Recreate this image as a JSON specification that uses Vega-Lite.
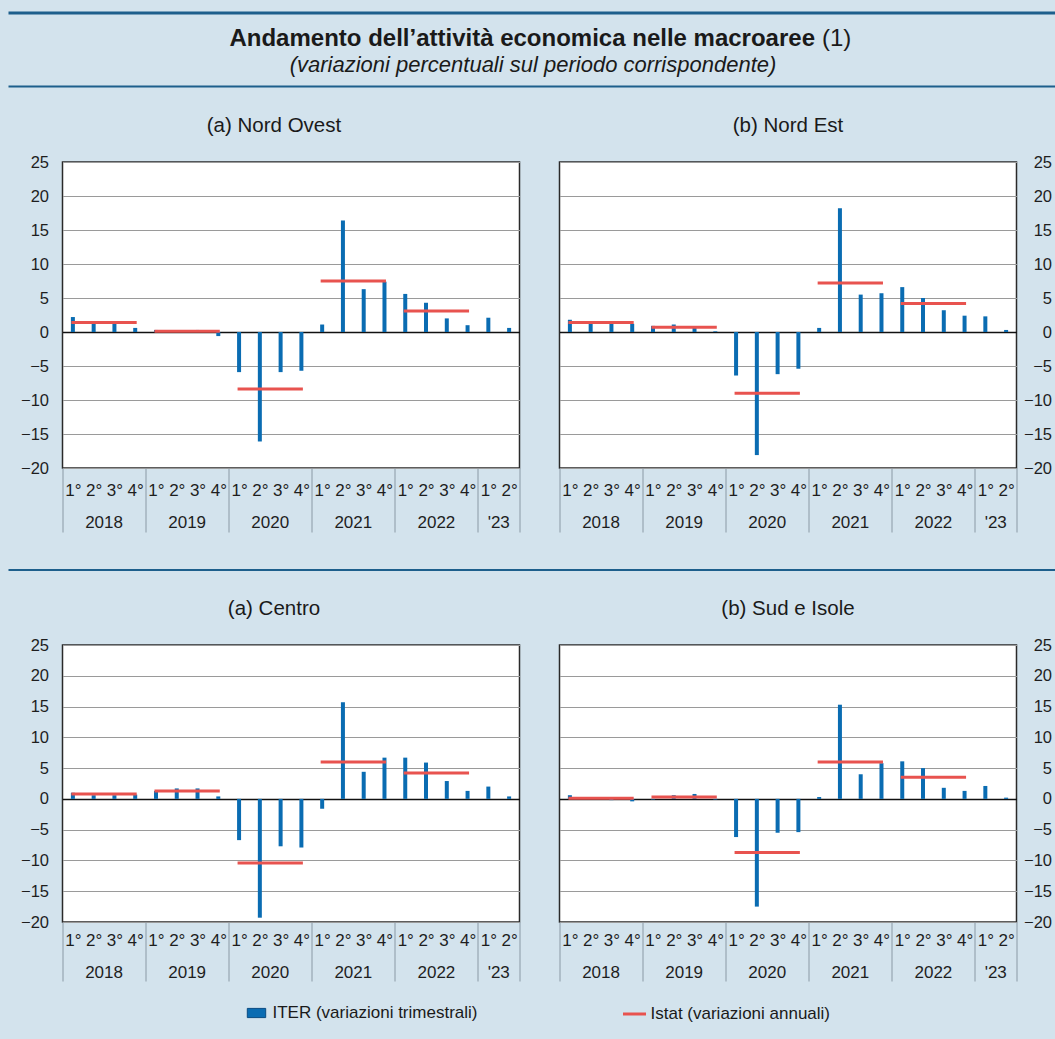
{
  "$schema": "https://vega.github.io/schema/vega-lite/v6.json",
  "background": "#d3e3ed",
  "padding": {"left": 6.5, "top": 11, "right": 0, "bottom": 20},
  "datasets": {
    "iter": [
      {"area": "Nord Ovest", "t": "2018-1", "v": 2.2}, {"area": "Nord Ovest", "t": "2018-2", "v": 1.6}, {"area": "Nord Ovest", "t": "2018-3", "v": 1.2}, {"area": "Nord Ovest", "t": "2018-4", "v": 0.6},
      {"area": "Nord Ovest", "t": "2019-1", "v": 0.3}, {"area": "Nord Ovest", "t": "2019-2", "v": 0.2}, {"area": "Nord Ovest", "t": "2019-3", "v": 0.3}, {"area": "Nord Ovest", "t": "2019-4", "v": -0.6},
      {"area": "Nord Ovest", "t": "2020-1", "v": -5.9}, {"area": "Nord Ovest", "t": "2020-2", "v": -16.1}, {"area": "Nord Ovest", "t": "2020-3", "v": -5.9}, {"area": "Nord Ovest", "t": "2020-4", "v": -5.7},
      {"area": "Nord Ovest", "t": "2021-1", "v": 1.1}, {"area": "Nord Ovest", "t": "2021-2", "v": 16.4}, {"area": "Nord Ovest", "t": "2021-3", "v": 6.3}, {"area": "Nord Ovest", "t": "2021-4", "v": 7.4},
      {"area": "Nord Ovest", "t": "2022-1", "v": 5.6}, {"area": "Nord Ovest", "t": "2022-2", "v": 4.3}, {"area": "Nord Ovest", "t": "2022-3", "v": 2.0}, {"area": "Nord Ovest", "t": "2022-4", "v": 1.0},
      {"area": "Nord Ovest", "t": "2023-1", "v": 2.1}, {"area": "Nord Ovest", "t": "2023-2", "v": 0.6},
      {"area": "Nord Est", "t": "2018-1", "v": 1.8}, {"area": "Nord Est", "t": "2018-2", "v": 1.3}, {"area": "Nord Est", "t": "2018-3", "v": 1.3}, {"area": "Nord Est", "t": "2018-4", "v": 1.2},
      {"area": "Nord Est", "t": "2019-1", "v": 0.9}, {"area": "Nord Est", "t": "2019-2", "v": 1.1}, {"area": "Nord Est", "t": "2019-3", "v": 0.6}, {"area": "Nord Est", "t": "2019-4", "v": 0.1},
      {"area": "Nord Est", "t": "2020-1", "v": -6.4}, {"area": "Nord Est", "t": "2020-2", "v": -18.1}, {"area": "Nord Est", "t": "2020-3", "v": -6.2}, {"area": "Nord Est", "t": "2020-4", "v": -5.4},
      {"area": "Nord Est", "t": "2021-1", "v": 0.6}, {"area": "Nord Est", "t": "2021-2", "v": 18.2}, {"area": "Nord Est", "t": "2021-3", "v": 5.5}, {"area": "Nord Est", "t": "2021-4", "v": 5.7},
      {"area": "Nord Est", "t": "2022-1", "v": 6.6}, {"area": "Nord Est", "t": "2022-2", "v": 5.0}, {"area": "Nord Est", "t": "2022-3", "v": 3.2}, {"area": "Nord Est", "t": "2022-4", "v": 2.4},
      {"area": "Nord Est", "t": "2023-1", "v": 2.3}, {"area": "Nord Est", "t": "2023-2", "v": 0.3},
      {"area": "Centro", "t": "2018-1", "v": 1.0}, {"area": "Centro", "t": "2018-2", "v": 0.6}, {"area": "Centro", "t": "2018-3", "v": 0.6}, {"area": "Centro", "t": "2018-4", "v": 0.7},
      {"area": "Centro", "t": "2019-1", "v": 1.3}, {"area": "Centro", "t": "2019-2", "v": 1.7}, {"area": "Centro", "t": "2019-3", "v": 1.7}, {"area": "Centro", "t": "2019-4", "v": 0.4},
      {"area": "Centro", "t": "2020-1", "v": -6.7}, {"area": "Centro", "t": "2020-2", "v": -19.3}, {"area": "Centro", "t": "2020-3", "v": -7.7}, {"area": "Centro", "t": "2020-4", "v": -7.9},
      {"area": "Centro", "t": "2021-1", "v": -1.6}, {"area": "Centro", "t": "2021-2", "v": 15.7}, {"area": "Centro", "t": "2021-3", "v": 4.4}, {"area": "Centro", "t": "2021-4", "v": 6.7},
      {"area": "Centro", "t": "2022-1", "v": 6.7}, {"area": "Centro", "t": "2022-2", "v": 5.9}, {"area": "Centro", "t": "2022-3", "v": 2.9}, {"area": "Centro", "t": "2022-4", "v": 1.3},
      {"area": "Centro", "t": "2023-1", "v": 2.0}, {"area": "Centro", "t": "2023-2", "v": 0.4},
      {"area": "Sud e Isole", "t": "2018-1", "v": 0.6}, {"area": "Sud e Isole", "t": "2018-2", "v": 0.3}, {"area": "Sud e Isole", "t": "2018-3", "v": -0.2}, {"area": "Sud e Isole", "t": "2018-4", "v": -0.4},
      {"area": "Sud e Isole", "t": "2019-1", "v": -0.1}, {"area": "Sud e Isole", "t": "2019-2", "v": 0.6}, {"area": "Sud e Isole", "t": "2019-3", "v": 0.8}, {"area": "Sud e Isole", "t": "2019-4", "v": -0.1},
      {"area": "Sud e Isole", "t": "2020-1", "v": -6.2}, {"area": "Sud e Isole", "t": "2020-2", "v": -17.5}, {"area": "Sud e Isole", "t": "2020-3", "v": -5.5}, {"area": "Sud e Isole", "t": "2020-4", "v": -5.4},
      {"area": "Sud e Isole", "t": "2021-1", "v": 0.3}, {"area": "Sud e Isole", "t": "2021-2", "v": 15.3}, {"area": "Sud e Isole", "t": "2021-3", "v": 4.0}, {"area": "Sud e Isole", "t": "2021-4", "v": 5.8},
      {"area": "Sud e Isole", "t": "2022-1", "v": 6.1}, {"area": "Sud e Isole", "t": "2022-2", "v": 5.0}, {"area": "Sud e Isole", "t": "2022-3", "v": 1.8}, {"area": "Sud e Isole", "t": "2022-4", "v": 1.3},
      {"area": "Sud e Isole", "t": "2023-1", "v": 2.1}, {"area": "Sud e Isole", "t": "2023-2", "v": 0.2}
    ],
    "istat": [
      {"area": "Nord Ovest", "anno": "2018", "da": "2018-1", "a": "2018-4", "v": 1.4},
      {"area": "Nord Ovest", "anno": "2019", "da": "2019-1", "a": "2019-4", "v": 0.1},
      {"area": "Nord Ovest", "anno": "2020", "da": "2020-1", "a": "2020-4", "v": -8.4},
      {"area": "Nord Ovest", "anno": "2021", "da": "2021-1", "a": "2021-4", "v": 7.5},
      {"area": "Nord Ovest", "anno": "2022", "da": "2022-1", "a": "2022-4", "v": 3.1},
      {"area": "Nord Est", "anno": "2018", "da": "2018-1", "a": "2018-4", "v": 1.4},
      {"area": "Nord Est", "anno": "2019", "da": "2019-1", "a": "2019-4", "v": 0.7},
      {"area": "Nord Est", "anno": "2020", "da": "2020-1", "a": "2020-4", "v": -9.0},
      {"area": "Nord Est", "anno": "2021", "da": "2021-1", "a": "2021-4", "v": 7.2},
      {"area": "Nord Est", "anno": "2022", "da": "2022-1", "a": "2022-4", "v": 4.2},
      {"area": "Centro", "anno": "2018", "da": "2018-1", "a": "2018-4", "v": 0.8},
      {"area": "Centro", "anno": "2019", "da": "2019-1", "a": "2019-4", "v": 1.3},
      {"area": "Centro", "anno": "2020", "da": "2020-1", "a": "2020-4", "v": -10.4},
      {"area": "Centro", "anno": "2021", "da": "2021-1", "a": "2021-4", "v": 6.0},
      {"area": "Centro", "anno": "2022", "da": "2022-1", "a": "2022-4", "v": 4.2},
      {"area": "Sud e Isole", "anno": "2018", "da": "2018-1", "a": "2018-4", "v": 0.1},
      {"area": "Sud e Isole", "anno": "2019", "da": "2019-1", "a": "2019-4", "v": 0.3},
      {"area": "Sud e Isole", "anno": "2020", "da": "2020-1", "a": "2020-4", "v": -8.7},
      {"area": "Sud e Isole", "anno": "2021", "da": "2021-1", "a": "2021-4", "v": 6.0},
      {"area": "Sud e Isole", "anno": "2022", "da": "2022-1", "a": "2022-4", "v": 3.5}
    ],
    "testata": [
      {"titolo": "Andamento dell’attività economica nelle macroaree", "nota": "(1)", "sottotitolo": "(variazioni percentuali sul periodo corrispondente)"}
    ]
  },
  "vconcat": [
    {
      "width": 993,
      "height": 73.5,
      "view": {"stroke": null, "fill": null},
      "data": {"name": "testata"},
      "layer": [
        {"mark": {"type": "rule", "color": "#1d5f8c", "strokeWidth": 3, "xOffset": -54, "x2Offset": 10},
         "encoding": {"x": {"datum": 0, "type": "quantitative", "scale": {"domain": [0, 1]}, "axis": null}, "x2": {"datum": 1}, "y": {"datum": 1, "type": "quantitative", "scale": {"domain": [0, 1]}, "axis": null}}},
        {"mark": {"type": "rule", "color": "#1d5f8c", "strokeWidth": 2, "xOffset": -54, "x2Offset": 10},
         "encoding": {"x": {"datum": 0, "type": "quantitative", "axis": null}, "x2": {"datum": 1}, "y": {"datum": 0, "type": "quantitative", "axis": null}}},
        {"mark": {"type": "text", "fontSize": 24, "fontWeight": "bold", "align": "right", "baseline": "middle", "dy": -11, "dx": 256, "color": "#1a1a1a"}, "encoding": {"text": {"field": "titolo"}}},
        {"mark": {"type": "text", "fontSize": 24, "fontWeight": "normal", "align": "left", "baseline": "middle", "dy": -11, "dx": 263, "color": "#1a1a1a"}, "encoding": {"text": {"field": "nota"}}},
        {"mark": {"type": "text", "fontSize": 22, "fontStyle": "italic", "baseline": "middle", "dy": 15, "dx": -26, "color": "#1a1a1a"}, "encoding": {"text": {"field": "sottotitolo"}}}
      ]
    },
    {
      "hconcat": [
        {
          "width": 457, "height": 306,
          "title": {"text": "(a) Nord Ovest", "dx": -17},
          "layer": [
            {
              "data": {"name": "iter"},
              "transform": [{"filter": "datum.area === 'Nord Ovest'"}],
              "mark": {"type": "bar", "size": 4},
              "encoding": {
                "x": {"field": "t", "type": "ordinal", "scale": {"paddingInner": 0, "paddingOuter": 0},
                  "axis": {"orient": "bottom", "title": null, "domain": false, "grid": false, "labelAngle": 0, "labelOverlap": false, "tickBand": "extent", "tickSize": 64, "tickWidth": 1, "tickColor": "#8a99a5",
                    "tickOpacity": {"condition": {"test": "datum.index < 0 || indexof(['2018-4','2019-4','2020-4','2021-4','2022-4','2023-2'], datum.value) >= 0", "value": 1}, "value": 0},
                    "labelPadding": -49.3, "labelExpr": "datum.index < 0 ? '' : substring(datum.value, 5) + '°'"}},
                "y": {"field": "v", "type": "quantitative", "scale": {"domain": [-20, 25], "nice": false},
                  "axis": {"title": null, "values": [-20, -15, -10, -5, 0, 5, 10, 15, 20, 25], "tickCount": 20, "labelOverlap": false, "domain": false, "ticks": false, "grid": true, "labelPadding": 14, "minExtent": 54, "labelFontSize": 16.5,
                    "gridColor": {"condition": {"test": "datum.value === 0", "value": "#111111"}, "value": "#9a9a9a"},
                    "gridWidth": {"condition": {"test": "datum.value === 0", "value": 1.5}, "value": 1}}},
                "fill": {"datum": "ITER (variazioni trimestrali)", "scale": {"range": ["#0a6cb2"]}, "legend": {"title": null, "symbolType": "M-0.8,-0.4H0.8V0.4H-0.8Z", "symbolSize": 529, "symbolStrokeColor": "#0b4c82", "symbolStrokeWidth": 1, "labelOffset": 4, "labelLimit": 400}}
              }
            },
            {
              "data": {"name": "istat"},
              "transform": [{"filter": "datum.area === 'Nord Ovest'"}],
              "mark": {"type": "rule", "strokeWidth": 3, "strokeCap": "square"},
              "encoding": {
                "x": {"field": "da", "type": "ordinal",
                  "axis": {"orient": "bottom", "title": null, "domain": false, "grid": false, "ticks": false, "labelAngle": 0, "labelOverlap": false,
                    "values": ["2018-2", "2019-2", "2020-2", "2021-2", "2022-2", "2023-1"], "labelOffset": 10.39, "labelPadding": 46.2,
                    "labelExpr": "datum.value === '2023-1' ? \"'23\" : substring(datum.value, 0, 4)"}},
                "x2": {"field": "a"},
                "y": {"field": "v", "type": "quantitative"},
                "stroke": {"datum": "Istat (variazioni annuali)", "scale": {"range": ["#e8534f"]}, "legend": {"title": null, "symbolType": "stroke", "symbolSize": 529, "symbolStrokeWidth": 3, "labelOffset": 3, "labelLimit": 400}}
              }
            }
          ],
          "resolve": {"axis": {"x": "independent"}}
        },
        {
          "width": 457, "height": 306,
          "title": {"text": "(b) Nord Est"},
          "layer": [
            {
              "data": {"name": "iter"},
              "transform": [{"filter": "datum.area === 'Nord Est'"}],
              "mark": {"type": "bar", "size": 4},
              "encoding": {
                "x": {"field": "t", "type": "ordinal", "scale": {"paddingInner": 0, "paddingOuter": 0},
                  "axis": {"orient": "bottom", "title": null, "domain": false, "grid": false, "labelAngle": 0, "labelOverlap": false, "tickBand": "extent", "tickSize": 64, "tickWidth": 1, "tickColor": "#8a99a5",
                    "tickOpacity": {"condition": {"test": "datum.index < 0 || indexof(['2018-4','2019-4','2020-4','2021-4','2022-4','2023-2'], datum.value) >= 0", "value": 1}, "value": 0},
                    "labelPadding": -49.3, "labelExpr": "datum.index < 0 ? '' : substring(datum.value, 5) + '°'"}},
                "y": {"field": "v", "type": "quantitative", "scale": {"domain": [-20, 25], "nice": false},
                  "axis": {"orient": "right", "title": null, "values": [-20, -15, -10, -5, 0, 5, 10, 15, 20, 25], "tickCount": 20, "labelOverlap": false, "domain": false, "ticks": false, "grid": true, "labelPadding": 35, "labelAlign": "right", "labelFontSize": 16.5,
                    "gridColor": {"condition": {"test": "datum.value === 0", "value": "#111111"}, "value": "#9a9a9a"},
                    "gridWidth": {"condition": {"test": "datum.value === 0", "value": 1.5}, "value": 1}}},
                "fill": {"datum": "ITER (variazioni trimestrali)", "scale": {"range": ["#0a6cb2"]}, "legend": {"title": null, "symbolType": "M-0.8,-0.4H0.8V0.4H-0.8Z", "symbolSize": 529, "symbolStrokeColor": "#0b4c82", "symbolStrokeWidth": 1, "labelOffset": 4, "labelLimit": 400}}
              }
            },
            {
              "data": {"name": "istat"},
              "transform": [{"filter": "datum.area === 'Nord Est'"}],
              "mark": {"type": "rule", "strokeWidth": 3, "strokeCap": "square"},
              "encoding": {
                "x": {"field": "da", "type": "ordinal",
                  "axis": {"orient": "bottom", "title": null, "domain": false, "grid": false, "ticks": false, "labelAngle": 0, "labelOverlap": false,
                    "values": ["2018-2", "2019-2", "2020-2", "2021-2", "2022-2", "2023-1"], "labelOffset": 10.39, "labelPadding": 46.2,
                    "labelExpr": "datum.value === '2023-1' ? \"'23\" : substring(datum.value, 0, 4)"}},
                "x2": {"field": "a"},
                "y": {"field": "v", "type": "quantitative"},
                "stroke": {"datum": "Istat (variazioni annuali)", "scale": {"range": ["#e8534f"]}, "legend": {"title": null, "symbolType": "stroke", "symbolSize": 529, "symbolStrokeWidth": 3, "labelOffset": 3, "labelLimit": 400}}
              }
            }
          ],
          "resolve": {"axis": {"x": "independent"}}
        }
      ],
      "spacing": 36
    },
    {
      "width": 993,
      "height": 10,
      "view": {"stroke": null, "fill": null},
      "data": {"name": "testata"},
      "mark": {"type": "rule", "color": "#1d5f8c", "strokeWidth": 2, "xOffset": -54, "x2Offset": 10},
      "encoding": {"x": {"datum": 0, "type": "quantitative", "scale": {"domain": [0, 1]}, "axis": null}, "x2": {"datum": 1}, "y": {"datum": 0, "type": "quantitative", "scale": {"domain": [0, 1]}, "axis": null}}
    },
    {
      "hconcat": [
        {
          "width": 457, "height": 277,
          "title": {"text": "(a) Centro", "dx": -17},
          "layer": [
            {
              "data": {"name": "iter"},
              "transform": [{"filter": "datum.area === 'Centro'"}],
              "mark": {"type": "bar", "size": 4},
              "encoding": {
                "x": {"field": "t", "type": "ordinal", "scale": {"paddingInner": 0, "paddingOuter": 0},
                  "axis": {"orient": "bottom", "title": null, "domain": false, "grid": false, "labelAngle": 0, "labelOverlap": false, "tickBand": "extent", "tickSize": 59, "tickWidth": 1, "tickColor": "#8a99a5",
                    "tickOpacity": {"condition": {"test": "datum.index < 0 || indexof(['2018-4','2019-4','2020-4','2021-4','2022-4','2023-2'], datum.value) >= 0", "value": 1}, "value": 0},
                    "labelPadding": -48.3, "labelExpr": "datum.index < 0 ? '' : substring(datum.value, 5) + '°'"}},
                "y": {"field": "v", "type": "quantitative", "scale": {"domain": [-20, 25], "nice": false},
                  "axis": {"title": null, "values": [-20, -15, -10, -5, 0, 5, 10, 15, 20, 25], "tickCount": 20, "labelOverlap": false, "domain": false, "ticks": false, "grid": true, "labelPadding": 14, "minExtent": 54, "labelFontSize": 16.5,
                    "gridColor": {"condition": {"test": "datum.value === 0", "value": "#111111"}, "value": "#9a9a9a"},
                    "gridWidth": {"condition": {"test": "datum.value === 0", "value": 1.5}, "value": 1}}},
                "fill": {"datum": "ITER (variazioni trimestrali)", "scale": {"range": ["#0a6cb2"]}, "legend": {"title": null, "symbolType": "M-0.8,-0.4H0.8V0.4H-0.8Z", "symbolSize": 529, "symbolStrokeColor": "#0b4c82", "symbolStrokeWidth": 1, "labelOffset": 4, "labelLimit": 400}}
              }
            },
            {
              "data": {"name": "istat"},
              "transform": [{"filter": "datum.area === 'Centro'"}],
              "mark": {"type": "rule", "strokeWidth": 3, "strokeCap": "square"},
              "encoding": {
                "x": {"field": "da", "type": "ordinal",
                  "axis": {"orient": "bottom", "title": null, "domain": false, "grid": false, "ticks": false, "labelAngle": 0, "labelOverlap": false,
                    "values": ["2018-2", "2019-2", "2020-2", "2021-2", "2022-2", "2023-1"], "labelOffset": 10.39, "labelPadding": 42.7,
                    "labelExpr": "datum.value === '2023-1' ? \"'23\" : substring(datum.value, 0, 4)"}},
                "x2": {"field": "a"},
                "y": {"field": "v", "type": "quantitative"},
                "stroke": {"datum": "Istat (variazioni annuali)", "scale": {"range": ["#e8534f"]}, "legend": {"title": null, "symbolType": "stroke", "symbolSize": 529, "symbolStrokeWidth": 3, "labelOffset": 3, "labelLimit": 400}}
              }
            }
          ],
          "resolve": {"axis": {"x": "independent"}}
        },
        {
          "width": 457, "height": 277,
          "title": {"text": "(b) Sud e Isole"},
          "layer": [
            {
              "data": {"name": "iter"},
              "transform": [{"filter": "datum.area === 'Sud e Isole'"}],
              "mark": {"type": "bar", "size": 4},
              "encoding": {
                "x": {"field": "t", "type": "ordinal", "scale": {"paddingInner": 0, "paddingOuter": 0},
                  "axis": {"orient": "bottom", "title": null, "domain": false, "grid": false, "labelAngle": 0, "labelOverlap": false, "tickBand": "extent", "tickSize": 59, "tickWidth": 1, "tickColor": "#8a99a5",
                    "tickOpacity": {"condition": {"test": "datum.index < 0 || indexof(['2018-4','2019-4','2020-4','2021-4','2022-4','2023-2'], datum.value) >= 0", "value": 1}, "value": 0},
                    "labelPadding": -48.3, "labelExpr": "datum.index < 0 ? '' : substring(datum.value, 5) + '°'"}},
                "y": {"field": "v", "type": "quantitative", "scale": {"domain": [-20, 25], "nice": false},
                  "axis": {"orient": "right", "title": null, "values": [-20, -15, -10, -5, 0, 5, 10, 15, 20, 25], "tickCount": 20, "labelOverlap": false, "domain": false, "ticks": false, "grid": true, "labelPadding": 35, "labelAlign": "right", "labelFontSize": 16.5,
                    "gridColor": {"condition": {"test": "datum.value === 0", "value": "#111111"}, "value": "#9a9a9a"},
                    "gridWidth": {"condition": {"test": "datum.value === 0", "value": 1.5}, "value": 1}}},
                "fill": {"datum": "ITER (variazioni trimestrali)", "scale": {"range": ["#0a6cb2"]}, "legend": {"title": null, "symbolType": "M-0.8,-0.4H0.8V0.4H-0.8Z", "symbolSize": 529, "symbolStrokeColor": "#0b4c82", "symbolStrokeWidth": 1, "labelOffset": 4, "labelLimit": 400}}
              }
            },
            {
              "data": {"name": "istat"},
              "transform": [{"filter": "datum.area === 'Sud e Isole'"}],
              "mark": {"type": "rule", "strokeWidth": 3, "strokeCap": "square"},
              "encoding": {
                "x": {"field": "da", "type": "ordinal",
                  "axis": {"orient": "bottom", "title": null, "domain": false, "grid": false, "ticks": false, "labelAngle": 0, "labelOverlap": false,
                    "values": ["2018-2", "2019-2", "2020-2", "2021-2", "2022-2", "2023-1"], "labelOffset": 10.39, "labelPadding": 42.7,
                    "labelExpr": "datum.value === '2023-1' ? \"'23\" : substring(datum.value, 0, 4)"}},
                "x2": {"field": "a"},
                "y": {"field": "v", "type": "quantitative"},
                "stroke": {"datum": "Istat (variazioni annuali)", "scale": {"range": ["#e8534f"]}, "legend": {"title": null, "symbolType": "stroke", "symbolSize": 529, "symbolStrokeWidth": 3, "labelOffset": 3, "labelLimit": 400}}
              }
            }
          ],
          "resolve": {"axis": {"x": "independent"}}
        }
      ],
      "spacing": 36
    }
  ],
  "spacing": 26,
  "config": {
    "font": "Liberation Sans",
    "view": {"stroke": "#2a2a2a", "strokeWidth": 1.5, "fill": "#ffffff"},
    "axis": {"labelFont": "Liberation Sans", "labelFontSize": 17, "labelColor": "#1e1e1e"},
    "title": {"font": "Liberation Sans", "fontSize": 20.5, "fontWeight": "normal", "color": "#1a1a1a", "offset": 18, "anchor": "middle"},
    "legend": {"orient": "bottom", "direction": "horizontal", "labelFont": "Liberation Sans", "labelFontSize": 17, "labelLimit": 400, "labelColor": "#1a1a1a", "offset": 18, "layout": {"bottom": {"anchor": "middle", "margin": 144}}}
  }
}
